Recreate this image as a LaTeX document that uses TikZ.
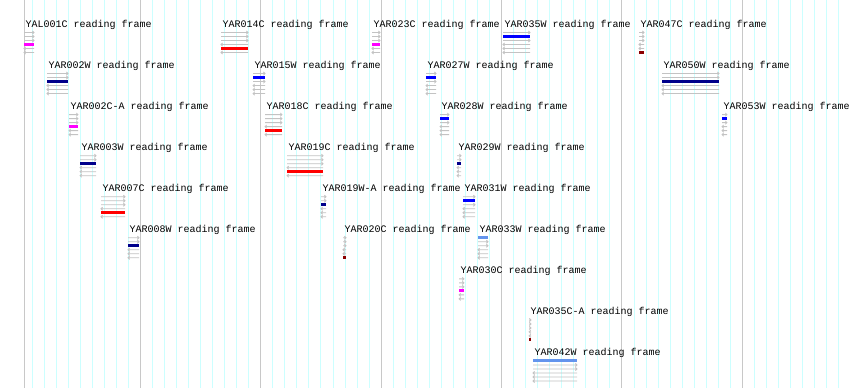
\documentclass[tikz,border=0pt]{standalone}
\usepackage{fontspec}
\newfontfamily\lblfont{Liberation Mono}
\definecolor{gridcyan}{RGB}{204,255,255}
\definecolor{gridgrey}{RGB}{200,200,200}
\definecolor{framegrey}{RGB}{195,195,195}
\definecolor{fr1}{RGB}{100,149,237}
\definecolor{fr2}{RGB}{0,0,255}
\definecolor{fr3}{RGB}{0,0,139}
\definecolor{fr4}{RGB}{255,0,255}
\definecolor{fr5}{RGB}{255,0,0}
\definecolor{fr6}{RGB}{139,0,0}
\tikzset{
  lbl/.style={font=\lblfont\fontsize{10}{12}\selectfont, anchor=base west, inner sep=0pt, text=black},
  cdsbar/.style={line width=3pt},
  frameline/.style={draw=framegrey, line width=0.8pt},
  cyanline/.style={draw=gridcyan, line width=1pt},
  greyline/.style={draw=gridgrey, line width=1pt}
}
\newcommand{\orfitem}[6]{%
  \pgfmathsetmacro{\orfy}{27.5+41.06*#4}%
  \pgfmathsetmacro{\orfe}{#2+#3}%
  \node[lbl] (#1) at (#2+1.5,\orfy) {#6};
  \foreach \r in {1,...,6}{%
    \pgfmathsetmacro{\ry}{\orfy+5+4*(\r-1)}%
    \ifnum\r=#5\relax
      \draw[cdsbar, color=fr#5] (#2,\ry) -- (\orfe,\ry);
    \else
      \ifnum\r<4\relax
        \draw[frameline] (#2,\ry) -- (\orfe,\ry) (\orfe-1.6,\ry-1.6) -- (\orfe,\ry) -- (\orfe-1.6,\ry+1.6);
      \else
        \draw[frameline] (#2,\ry) -- (\orfe,\ry) (#2+1.6,\ry-1.6) -- (#2,\ry) -- (#2+1.6,\ry+1.6);
      \fi
    \fi
  }%
}
\begin{document}
\begin{tikzpicture}[x=1pt,y=-1pt]
\fill[white] (0,0) rectangle (850,388);
\useasboundingbox (0,0) rectangle (850,388);
% grid
\draw[greyline] (24,0) -- (24,388);
\foreach \k in {0,...,67}{%
  \pgfmathsetmacro{\gx}{32+12.04*\k}%
  \pgfmathtruncatemacro{\gm}{mod(\k,10)}%
  \ifnum\gm=9\relax
    \draw[greyline] (\gx,0) -- (\gx,388);
  \else
    \draw[cyanline] (\gx,0) -- (\gx,388);
  \fi
}
% features
\orfitem{yal001c}{24}{10}{0}{4}{YAL001C reading frame}
\orfitem{yar014c}{221}{27}{0}{5}{YAR014C reading frame}
\orfitem{yar023c}{372}{8}{0}{4}{YAR023C reading frame}
\orfitem{yar035w}{503}{27}{0}{2}{YAR035W reading frame}
\orfitem{yar047c}{639}{5}{0}{6}{YAR047C reading frame}
\orfitem{yar002w}{47}{21}{1}{3}{YAR002W reading frame}
\orfitem{yar015w}{253}{12}{1}{2}{YAR015W reading frame}
\orfitem{yar027w}{426}{10}{1}{2}{YAR027W reading frame}
\orfitem{yar050w}{662}{57}{1}{3}{YAR050W reading frame}
\orfitem{yar002ca}{69}{9}{2}{4}{YAR002C-A reading frame}
\orfitem{yar018c}{265}{17}{2}{5}{YAR018C reading frame}
\orfitem{yar028w}{440}{9}{2}{2}{YAR028W reading frame}
\orfitem{yar053w}{722}{5}{2}{2}{YAR053W reading frame}
\orfitem{yar003w}{80}{16}{3}{3}{YAR003W reading frame}
\orfitem{yar019c}{287}{36}{3}{5}{YAR019C reading frame}
\orfitem{yar029w}{457}{4}{3}{3}{YAR029W reading frame}
\orfitem{yar007c}{101}{24}{4}{5}{YAR007C reading frame}
\orfitem{yar019wa}{321}{5}{4}{3}{YAR019W-A reading frame}
\orfitem{yar031w}{463}{12}{4}{2}{YAR031W reading frame}
\orfitem{yar008w}{128}{11}{5}{3}{YAR008W reading frame}
\orfitem{yar020c}{343}{3}{5}{6}{YAR020C reading frame}
\orfitem{yar033w}{478}{10}{5}{1}{YAR033W reading frame}
\orfitem{yar030c}{459}{5}{6}{4}{YAR030C reading frame}
\orfitem{yar035ca}{529}{2}{7}{6}{YAR035C-A reading frame}
\orfitem{yar042w}{533}{44}{8}{1}{YAR042W reading frame}
\end{tikzpicture}
\end{document}
